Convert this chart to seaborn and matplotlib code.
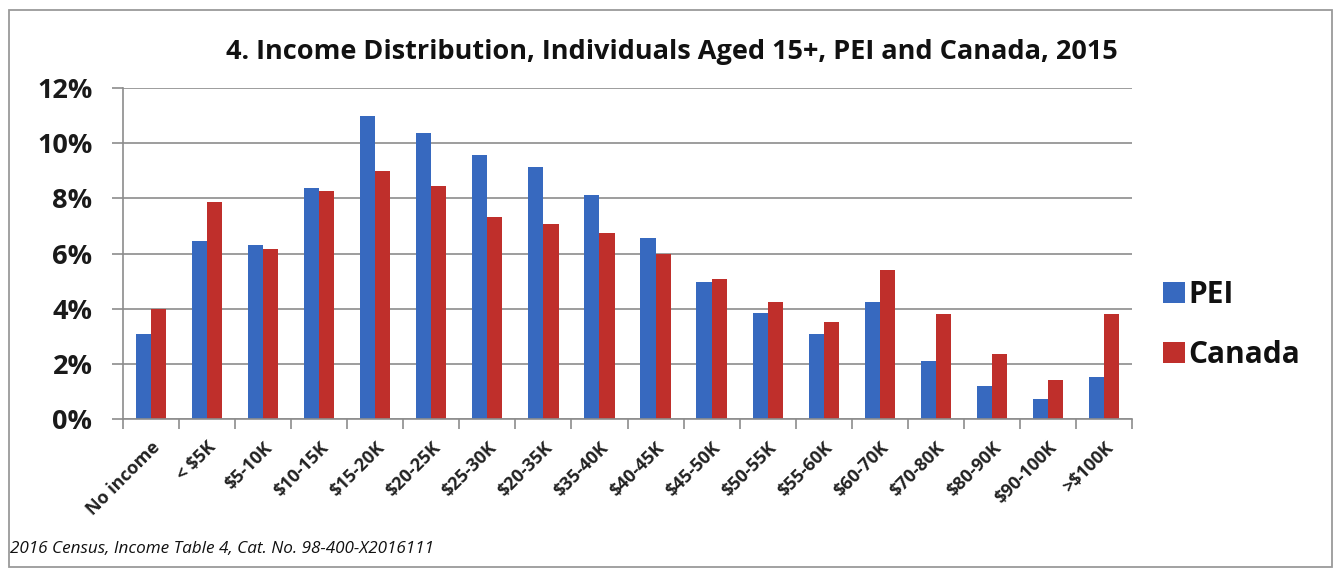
import numpy as np
import pandas as pd
import seaborn as sns
import matplotlib.pyplot as plt
from matplotlib.patches import Rectangle
from matplotlib.ticker import FixedLocator, PercentFormatter

categories = ["No income", "< $5K", "$5-10K", "$10-15K", "$15-20K", "$20-25K", "$25-30K",
              "$20-35K", "$35-40K", "$40-45K", "$45-50K", "$50-55K", "$55-60K", "$60-70K",
              "$70-80K", "$80-90K", "$90-100K", ">$100K"]
pei = [3.07, 6.46, 6.32, 8.38, 10.98, 10.38, 9.58, 9.13, 8.12, 6.58, 4.97, 3.85, 3.07,
       4.25, 2.12, 1.18, 0.73, 1.52]
canada = [4.00, 7.85, 6.18, 8.25, 8.98, 8.46, 7.33, 7.07, 6.73, 5.98, 5.07, 4.25, 3.53,
          5.39, 3.79, 2.36, 1.43, 3.82]
series = ["PEI", "Canada"]
colors = {"PEI": "#3769BF", "Canada": "#BF2F2B"}
yticks = [0, 2, 4, 6, 8, 10, 12]

df = pd.DataFrame({
    "Income": categories * 2,
    "Share": pei + canada,
    "Region": ["PEI"] * len(categories) + ["Canada"] * len(categories),
})

sns.set_theme(style="white")
plt.rcParams['font.family'] = ['Open Sans', 'DejaVu Sans']

W, H = 1335, 571
fig = plt.figure(figsize=(W / 100, H / 100), dpi=100)
ax = fig.add_axes([123 / W, 1 - 419 / H, (1132 - 123) / W, (419 - 88) / H])

sns.barplot(data=df, x="Income", y="Share", hue="Region", hue_order=series,
            palette=colors, width=0.54, gap=0, ax=ax, edgecolor="none",
            saturation=1, legend=True)

ax.set_ylim(0, 12)
ax.set_xlim(-0.5, len(categories) - 0.5)
ax.yaxis.set_major_locator(FixedLocator(yticks))
ax.yaxis.set_major_formatter(PercentFormatter(decimals=0))
ax.grid(axis="y", color="#8C8C8C", linewidth=1.2)
ax.set_axisbelow(True)
for s in ["top", "right"]:
    ax.spines[s].set_visible(False)
for s in ["left", "bottom"]:
    ax.spines[s].set_color("#8C8C8C")
    ax.spines[s].set_linewidth(1.2)

ax.set_xlabel("")
ax.set_ylabel("")
ax.set_xticks(range(len(categories)))
ax.set_xticklabels(categories, rotation=45, ha="right", rotation_mode="anchor",
                   fontsize=13, fontweight="bold", color="#222222")
ax.tick_params(axis="x", which="major", length=0, pad=14)
ax.set_xticks(np.arange(-0.5, len(categories), 1), minor=True)
ax.tick_params(axis="x", which="minor", length=7, color="#8C8C8C", width=1.2, bottom=True)
ax.tick_params(axis="y", length=8, color="#8C8C8C", width=1.2, left=True, pad=14)
for lab in ax.get_yticklabels():
    lab.set_fontsize(19.5)
    lab.set_fontweight("bold")
    lab.set_color("#1A1A1A")

leg = ax.legend(loc="center left", bbox_to_anchor=(1163 / W, 1 - 325 / H),
                bbox_transform=fig.transFigure, frameon=False, borderpad=0,
                borderaxespad=0, prop={"size": 21.5, "weight": "bold"},
                handlelength=0.72, handleheight=0.72, handletextpad=0.12,
                labelspacing=1.0)
for t in leg.get_texts():
    t.set_color("#111111")

fig.text(672 / W, 1 - 52 / H, "4. Income Distribution, Individuals Aged 15+, PEI and Canada, 2015",
         ha="center", va="center", fontsize=19.5, fontweight="bold", color="#111111")
fig.text(10 / W, 1 - 549 / H, "2016 Census, Income Table 4, Cat. No. 98-400-X2016111",
         ha="left", va="center", fontsize=12.3, style="italic", color="#111111")

fig.patches.append(Rectangle((9 / W, 4 / H), 1323 / W, 557 / H,
                             transform=fig.transFigure, fill=False,
                             edgecolor="#9A9A9A", linewidth=1.3))

fig.savefig("out.png", dpi=100)
